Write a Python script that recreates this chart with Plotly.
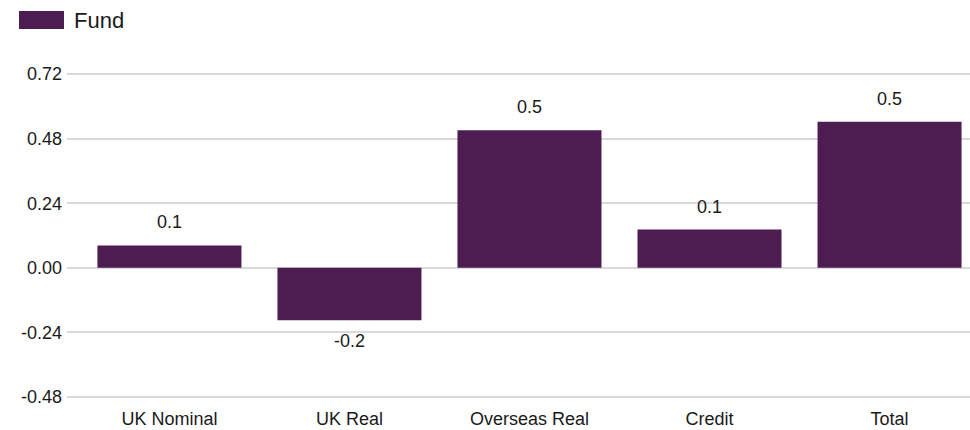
import plotly.graph_objects as go

# Attribution by asset class
categories = ["UK Nominal", "UK Real", "Overseas Real", "Credit", "Total"]
fund_values = [0.083, -0.195, 0.511, 0.142, 0.543]
tick_values = [-0.48, -0.24, 0.0, 0.24, 0.48, 0.72]
tick_labels = ["-0.48", "-0.24", "0.00", "0.24", "0.48", "0.72"]

BAR_COLOR = "#4d1d52"
FONT = "Arial"
TEXT_COLOR = "#1a1a1a"

W, H = 970, 430
M_L, M_R, M_T, M_B = 67, 0, 72, 30
plot_w, plot_h = W - M_L - M_R, H - M_T - M_B

# y scale: 0.72 sits at y=74px, -0.48 at y=397px
px_per_unit = (397 - 74) / 1.2
y_top = 0.72 + (74 - M_T) / px_per_unit
y_bot = y_top - plot_h / px_per_unit


def px_x(px):
    return (px - M_L) / plot_w


def px_y(py):
    return (H - M_B - py) / plot_h


fig = go.Figure()
fig.add_trace(go.Bar(
    x=categories,
    y=fund_values,
    name="Fund",
    marker=dict(color=BAR_COLOR, line=dict(width=0)),
    showlegend=False,
))

# Value labels above/below each bar
for cat, val in zip(categories, fund_values):
    fig.add_annotation(
        x=cat, y=val, xref="x", yref="y",
        text=f"{val:.1f}",
        showarrow=False,
        yanchor="middle",
        yshift=23 if val >= 0 else -21,
        font=dict(family=FONT, size=18, color=TEXT_COLOR),
    )

# Legend entry: swatch + label
fig.add_shape(
    type="rect", xref="paper", yref="paper",
    x0=px_x(19), x1=px_x(64), y0=px_y(29), y1=px_y(11),
    line=dict(width=0), fillcolor=BAR_COLOR,
)
fig.add_annotation(
    xref="paper", yref="paper",
    x=px_x(72), y=px_y(20),
    xanchor="left", yanchor="middle",
    text="Fund", showarrow=False,
    font=dict(family=FONT, size=22, color=TEXT_COLOR),
)

fig.update_layout(
    width=W, height=H,
    margin=dict(l=M_L, r=M_R, t=M_T, b=M_B),
    paper_bgcolor="white",
    plot_bgcolor="white",
    bargap=0.2,
    font=dict(family=FONT, size=18, color=TEXT_COLOR),
    xaxis=dict(
        range=[-0.569, 4.447],
        showgrid=False, zeroline=False, showline=False,
        ticks="", tickfont=dict(family=FONT, size=18, color=TEXT_COLOR),
        ticklabelstandoff=6,
    ),
    yaxis=dict(
        range=[y_bot, y_top],
        tickvals=tick_values, ticktext=tick_labels,
        showgrid=True, gridcolor="#d9d9d9", gridwidth=1.5,
        zeroline=False, showline=False, ticks="",
        tickfont=dict(family=FONT, size=18, color=TEXT_COLOR),
        ticklabelstandoff=4,
    ),
)

fig.write_html("out.html")
